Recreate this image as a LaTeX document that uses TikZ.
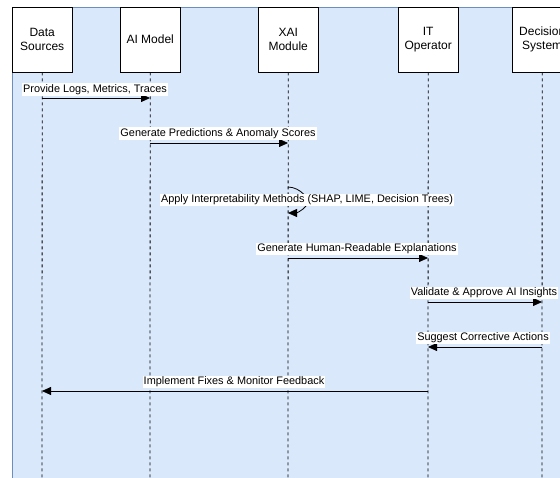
\documentclass[tikz,border=0pt]{standalone}
\usepackage{fontspec}
\setmainfont{Liberation Sans}
\usetikzlibrary{arrows.meta}
\begin{document}
\begin{tikzpicture}[x=1pt,y=-1pt,
  actor/.style={draw=black,fill=white,minimum width=60pt,minimum height=65pt,inner sep=0pt,align=center,font=\fontsize{12}{14}\selectfont,anchor=north west},
  life/.style={draw=black,dash pattern=on 3pt off 3pt,line width=0.8pt},
  msg/.style={draw=black,line width=0.8pt,-{Triangle[length=9pt,width=8pt]}},
  lbl/.style={fill=white,inner sep=1pt,font=\fontsize{10.9}{12}\selectfont}]
\useasboundingbox (0,0) rectangle (560,477);
\fill[white] (0,0) rectangle (560,477);
\draw[draw={rgb,255:red,108;green,142;blue,191},fill={rgb,255:red,218;green,232;blue,252},line width=1pt] (12,7) rectangle (580,490);
% actors
\node[actor] (ds) at (12,7) {Data\\Sources};
\node[actor] (ai) at (120,7) {AI Model};
\node[actor] (xai) at (258,7) {XAI\\Module};
\node[actor] (it) at (398,7) {IT\\Operator};
\node[actor] (dec) at (512,7) {Decision\\System};
% lifeline ends
\coordinate (dsE) at (42,480);
\coordinate (aiE) at (150,480);
\coordinate (xaiE) at (288,480);
\coordinate (itE) at (428,480);
\coordinate (decE) at (542,480);
\draw[life] (ds.south) -- (dsE);
\draw[life] (ai.south) -- (aiE);
\draw[life] (xai.south) -- (xaiE);
\draw[life] (it.south) -- (itE);
\draw[life] (dec.south) -- (decE);
% message points
\coordinate (m1a) at (42,98);  \coordinate (m1b) at (150,98);
\coordinate (m2a) at (150,143); \coordinate (m2b) at (288,143);
\coordinate (m3a) at (288,187); \coordinate (m3b) at (288,213);
\coordinate (m4a) at (288,258); \coordinate (m4b) at (428,258);
\coordinate (m5a) at (428,302); \coordinate (m5b) at (542,302);
\coordinate (m6a) at (542,347); \coordinate (m6b) at (428,347);
\coordinate (m7a) at (428,391); \coordinate (m7b) at (42,391);
\draw[msg] (m1a) -- (m1b);
\draw[msg] (m2a) -- (m2b);
\draw[msg] (m3a) .. controls (300,187) and (312,200) .. (306,206) .. controls (302,211) and (296,213) .. (m3b);
\draw[msg] (m4a) -- (m4b);
\draw[msg] (m5a) -- (m5b);
\draw[msg] (m6a) -- (m6b);
\draw[msg] (m7a) -- (m7b);
% labels
\node[lbl] (l1) at (95,89.5) {Provide Logs, Metrics, Traces};
\node[lbl] (l2) at (218,133.5) {Generate Predictions \& Anomaly Scores};
\node[lbl] (l3) at (307,200) {Apply Interpretability Methods (SHAP, LIME, Decision Trees)};
\node[lbl] (l4) at (357,249) {Generate Human-Readable Explanations};
\node[lbl] (l5) at (484,293) {Validate \& Approve AI Insights};
\node[lbl] (l6) at (483,338) {Suggest Corrective Actions};
\node[lbl] (l7) at (234,382) {Implement Fixes \& Monitor Feedback};
\end{tikzpicture}
\end{document}
